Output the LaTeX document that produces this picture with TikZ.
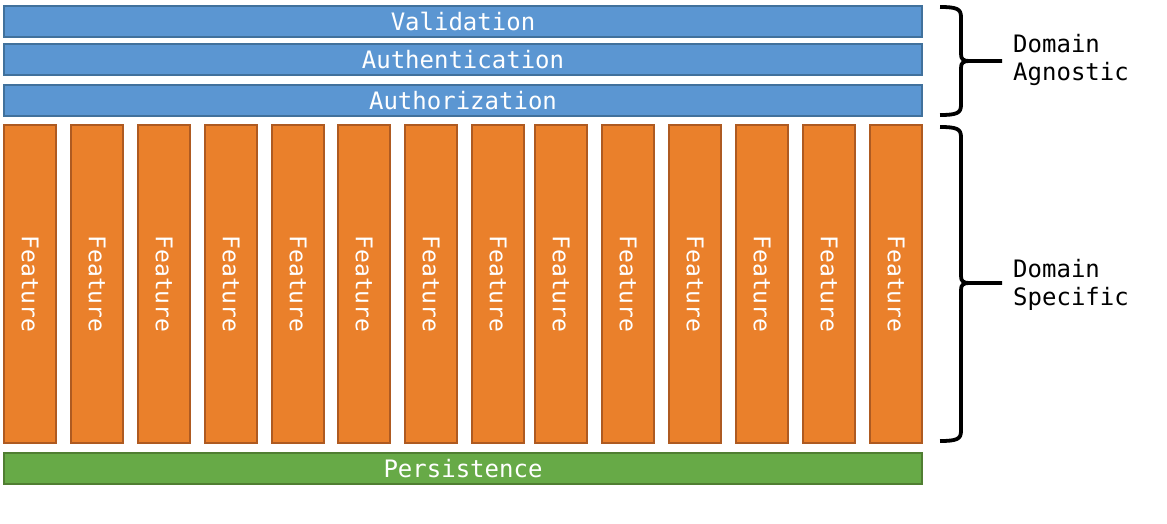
\documentclass[tikz,border=0pt]{standalone}
\usepackage{fontspec}
\setmonofont{DejaVu Sans Mono}
\newfontfamily\cons{DejaVu Sans Mono}
\definecolor{bluefill}{HTML}{5B96D2}
\definecolor{blueline}{HTML}{41719C}
\definecolor{orfill}{HTML}{EA802B}
\definecolor{orline}{HTML}{AE5A21}
\definecolor{grfill}{HTML}{67AA47}
\definecolor{grline}{HTML}{507E32}
\tikzset{
  layer/.style={draw=blueline, fill=bluefill, line width=1.2pt, minimum width=918pt, minimum height=31pt, inner sep=0pt, text=white, font=\cons\fontsize{24}{26}\selectfont},
  feat/.style={draw=orline, fill=orfill, line width=1.2pt, minimum width=52pt, minimum height=318pt, inner sep=0pt},
  feattxt/.style={text=white, rotate=-90, font=\cons\fontsize{23}{26}\selectfont, inner sep=0pt},
  persist/.style={draw=grline, fill=grfill, line width=1.2pt, minimum width=918pt, minimum height=31pt, inner sep=0pt, text=white, font=\cons\fontsize{24}{26}\selectfont},
  bracestyle/.style={line width=3.8pt, line cap=butt, line join=round},
  lbl/.style={anchor=west, align=left, font=\cons\fontsize{24}{28}\selectfont, inner sep=0pt}
}
\begin{document}
\begin{tikzpicture}[x=1pt,y=-1pt]
\useasboundingbox (0,0) rectangle (1167,524);
\node[layer] (val) at (463,21.5) {Validation};
\node[layer] (auth) at (463,59.5) {Authentication};
\node[layer] (authz) at (463,100.5) {Authorization};
\foreach \x [count=\i] in {4,71,138,205,272,338,405,472,535,602,669,736,803,870}{
  \node[feat] (f\i) at (\x+26,284) {};
  \node[feattxt] at (f\i.center) {Feature};
}
\node[persist] (pers) at (463,468.5) {Persistence};
% braces
\draw[bracestyle] (940,7) .. controls (957,7) and (961,9) .. (961,17) -- (961,54)
  .. controls (961,59) and (963,61) .. (969,61) -- (1002,61);
\draw[bracestyle] (969,61) .. controls (963,61) and (961,63) .. (961,68) -- (961,105)
  .. controls (961,113) and (957,115) .. (940,115);
\draw[bracestyle] (940,127) .. controls (957,127) and (961,129) .. (961,137) -- (961,276)
  .. controls (961,281) and (963,283) .. (969,283) -- (1002,283);
\draw[bracestyle] (969,283) .. controls (963,283) and (961,285) .. (961,290) -- (961,431)
  .. controls (961,439) and (957,441) .. (940,441);
\node[lbl] (da) at (1013,60) {Domain\\Agnostic};
\node[lbl] (ds) at (1013,285) {Domain\\Specific};
\end{tikzpicture}
\end{document}
